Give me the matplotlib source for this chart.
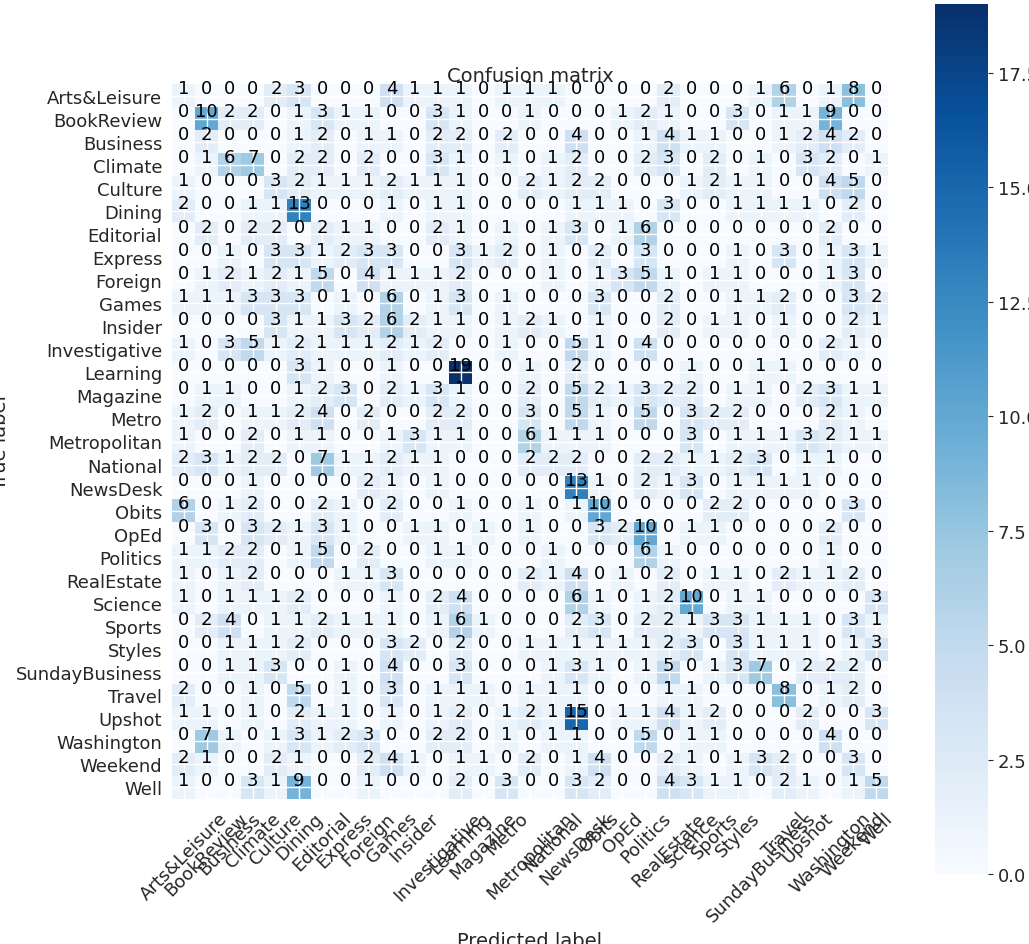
import numpy as np
import matplotlib
matplotlib.use('Agg')
import matplotlib.pyplot as plt
import seaborn as sns

classes = ['Arts&Leisure', 'BookReview', 'Business', 'Climate', 'Culture', 'Dining',
           'Editorial', 'Express', 'Foreign', 'Games', 'Insider', 'Investigative',
           'Learning', 'Magazine', 'Metro', 'Metropolitan', 'National', 'NewsDesk',
           'Obits', 'OpEd', 'Politics', 'RealEstate', 'Science', 'Sports', 'Styles',
           'SundayBusiness', 'Travel', 'Upshot', 'Washington', 'Weekend', 'Well']

cm = np.array([
    [1,0,0,0,2,3,0,0,0,4,1,1,1,0,1,1,1,0,0,0,0,2,0,0,0,1,6,0,1,8,0],
    [0,10,2,2,0,1,3,1,1,0,0,3,1,0,0,1,0,0,0,1,2,1,0,0,3,0,1,1,9,0,0],
    [0,2,0,0,0,1,2,0,1,1,0,2,2,0,2,0,0,4,0,0,1,4,1,1,0,0,1,2,4,2,0],
    [0,1,6,7,0,2,2,0,2,0,0,3,1,0,1,0,1,2,0,0,2,3,0,2,0,1,0,3,2,0,1],
    [1,0,0,0,3,2,1,1,1,2,1,1,1,0,0,2,1,2,2,0,0,0,1,2,1,1,0,0,4,5,0],
    [2,0,0,1,1,13,0,0,0,1,0,1,1,0,0,0,0,1,1,1,0,3,0,0,1,1,1,1,0,2,0],
    [0,2,0,2,2,0,2,1,1,0,0,2,1,0,1,0,1,3,0,1,6,0,0,0,0,0,0,0,2,0,0],
    [0,0,1,0,3,3,1,2,3,3,0,0,3,1,2,0,1,0,2,0,3,0,0,0,1,0,3,0,1,3,1],
    [0,1,2,1,2,1,5,0,4,1,1,1,2,0,0,0,1,0,1,3,5,1,0,1,1,0,0,0,1,3,0],
    [1,1,1,3,3,3,0,1,0,6,0,1,3,0,1,0,0,0,3,0,0,2,0,0,1,1,2,0,0,3,2],
    [0,0,0,0,3,1,1,3,2,6,2,1,1,0,1,2,1,0,1,0,0,2,0,1,1,0,1,0,0,2,1],
    [1,0,3,5,1,2,1,1,1,2,1,2,0,0,1,0,0,5,1,0,4,0,0,0,0,0,0,0,2,1,0],
    [0,0,0,0,0,3,1,0,0,1,0,0,19,0,0,1,0,2,0,0,0,0,1,0,0,1,1,0,0,0,0],
    [0,1,1,0,0,1,2,3,0,2,1,3,1,0,0,2,0,5,2,1,3,2,2,0,1,1,0,2,3,1,1],
    [1,2,0,1,1,2,4,0,2,0,0,2,2,0,0,3,0,5,1,0,5,0,3,2,2,0,0,0,2,1,0],
    [1,0,0,2,0,1,1,0,0,1,3,1,1,0,0,6,1,1,1,0,0,0,3,0,1,1,1,3,2,1,1],
    [2,3,1,2,2,0,7,1,1,2,1,1,0,0,0,2,2,2,0,0,2,2,1,1,2,3,0,1,1,0,0],
    [0,0,0,1,0,0,0,0,2,1,0,1,0,0,0,0,0,13,1,0,2,1,3,0,1,1,1,1,0,0,0],
    [6,0,1,2,0,0,2,1,0,2,0,0,1,0,0,1,0,1,10,0,0,0,0,2,2,0,0,0,0,3,0],
    [0,3,0,3,2,1,3,1,0,0,1,1,0,1,0,1,0,0,3,2,10,0,1,1,0,0,0,0,2,0,0],
    [1,1,2,2,0,1,5,0,2,0,0,1,1,0,0,0,1,0,0,0,6,1,0,0,0,0,0,0,1,0,0],
    [1,0,1,2,0,0,0,1,1,3,0,0,0,0,0,2,1,4,0,1,0,2,0,1,1,0,2,1,1,2,0],
    [1,0,1,1,1,2,0,0,0,1,0,2,4,0,0,0,0,6,1,0,1,2,10,0,1,1,0,0,0,0,3],
    [0,2,4,0,1,1,2,1,1,1,0,1,6,1,0,0,0,2,3,0,2,2,1,3,3,1,1,1,0,3,1],
    [0,0,1,1,1,2,0,0,0,3,2,0,2,0,0,1,1,1,1,1,1,2,3,0,3,1,1,1,0,1,3],
    [0,0,1,1,3,0,0,1,0,4,0,0,3,0,0,0,1,3,1,0,1,5,0,1,3,7,0,2,2,2,0],
    [2,0,0,1,0,5,0,1,0,3,0,1,1,1,0,1,1,1,0,0,0,1,1,0,0,0,8,0,1,2,0],
    [1,1,0,1,0,2,1,1,0,1,0,1,2,0,1,2,1,15,0,1,1,4,1,2,0,0,0,2,0,0,3],
    [0,7,1,0,1,3,1,2,3,0,0,2,2,0,1,0,1,1,0,0,5,0,1,1,0,0,0,0,4,0,0],
    [2,1,0,0,2,1,0,0,2,4,1,0,1,1,0,2,0,1,4,0,0,2,1,0,1,3,2,0,0,3,0],
    [1,0,0,3,1,9,0,0,1,0,0,0,2,0,3,0,0,3,2,0,0,4,3,1,1,0,2,1,0,1,5],
])

sns.set_style('whitegrid')
plt.rcParams['font.family'] = ['DejaVu Sans']

fig = plt.figure(figsize=(10.29, 9.45), dpi=100)
ax = fig.add_axes([172 / 1029, 145 / 945, 716 / 1029, 715 / 945])
cax = fig.add_axes([935 / 1029, 70 / 945, 53 / 1029, 870 / 945])

im = ax.imshow(cm, interpolation='nearest', cmap=plt.cm.Blues, aspect='auto')
ax.set_title('Confusion matrix', fontsize=14, pad=2)
cb = fig.colorbar(im, cax=cax)
cb.outline.set_visible(False)
cb.ax.tick_params(labelsize=13)

ticks = np.arange(len(classes))
ax.set_xticks(ticks)
ax.set_xticklabels(classes, rotation=45, fontsize=13)
ax.set_yticks(ticks)
ax.set_yticklabels(classes, fontsize=13)
ax.grid(True, color='white', linewidth=1)
for s in ax.spines.values():
    s.set_visible(False)

for i in range(cm.shape[0]):
    for j in range(cm.shape[1]):
        ax.text(j, i - 0.32, str(cm[i, j]), ha='center', va='center',
                fontsize=13, color='black')

ax.set_ylabel('True label', fontsize=14)
ax.set_xlabel('Predicted label', fontsize=14)
fig.savefig('out.png')
